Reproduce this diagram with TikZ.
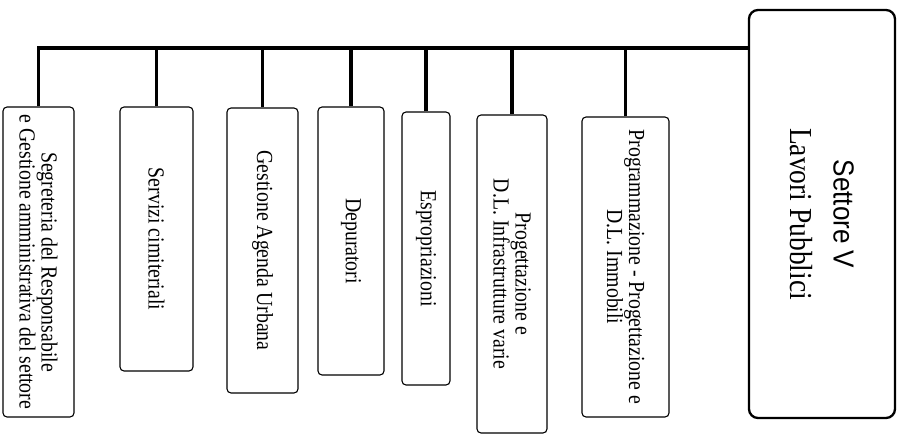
\documentclass[tikz,border=0pt]{standalone}
\usepackage{fontspec}
\setmainfont{Liberation Serif}
\setsansfont{Liberation Sans}
\newfontfamily\unitfont[FakeStretch=0.86]{Liberation Serif}
\newfontfamily\headfont[FakeStretch=0.9]{Liberation Sans}
\usepackage{tikz}

\begin{document}
\begin{tikzpicture}[x=1pt, y=-1pt,
  unit/.style={draw, line width=1.1pt, rounded corners=4pt, rotate=-90,
               inner sep=0pt, align=center,
               font=\unitfont\fontsize{23}{22}\selectfont},
  head/.style={draw, line width=2.3pt, rounded corners=9pt, rotate=-90,
               inner sep=0pt, align=center,
               font=\unitfont\fontsize{32}{43}\selectfont},
  link/.style={line width=3.6pt},
]
  \useasboundingbox (0,0) rectangle (898,436);

  % HEAD
  \node[head, minimum width=408pt, minimum height=146pt] (settore) at (822,214)
    {{\headfont\fontsize{29}{43}\selectfont Settore V}\\Lavori Pubblici};

  % UNITS
  \node[unit, minimum width=310pt, minimum height=71pt] (segr) at (38.5,262)
    {Segreteria del Responsabile\\e Gestione amministrativa del settore};
  \node[unit, minimum width=264pt, minimum height=73pt] (servizi) at (156.5,239)
    {Servizi cimiteriali};
  \node[unit, minimum width=285pt, minimum height=71pt] (agenda) at (262.5,250.5)
    {Gestione Agenda Urbana};
  \node[unit, minimum width=268pt, minimum height=66pt] (depur) at (351,241)
    {Depuratori};
  \node[unit, minimum width=273pt, minimum height=48pt] (espro) at (426,248.5)
    {Espropriazioni};
  \node[unit, minimum width=318pt, minimum height=70pt] (proginf) at (512,274)
    {Progettazione e\\D.L. Infrastrutture varie};
  \node[unit, minimum width=300pt, minimum height=87pt] (progimm) at (625.5,267)
    {Programmazione - Progettazione e\\D.L. Immobili};

  % BUS
  \coordinate (bus) at (0,48);
  \draw[link] (segr.west) |- (bus -| settore.south);
  \foreach \u in {servizi,agenda,depur,espro,proginf,progimm}
    \draw[link] (\u.west) -- (\u.west |- bus);
\end{tikzpicture}
\end{document}
